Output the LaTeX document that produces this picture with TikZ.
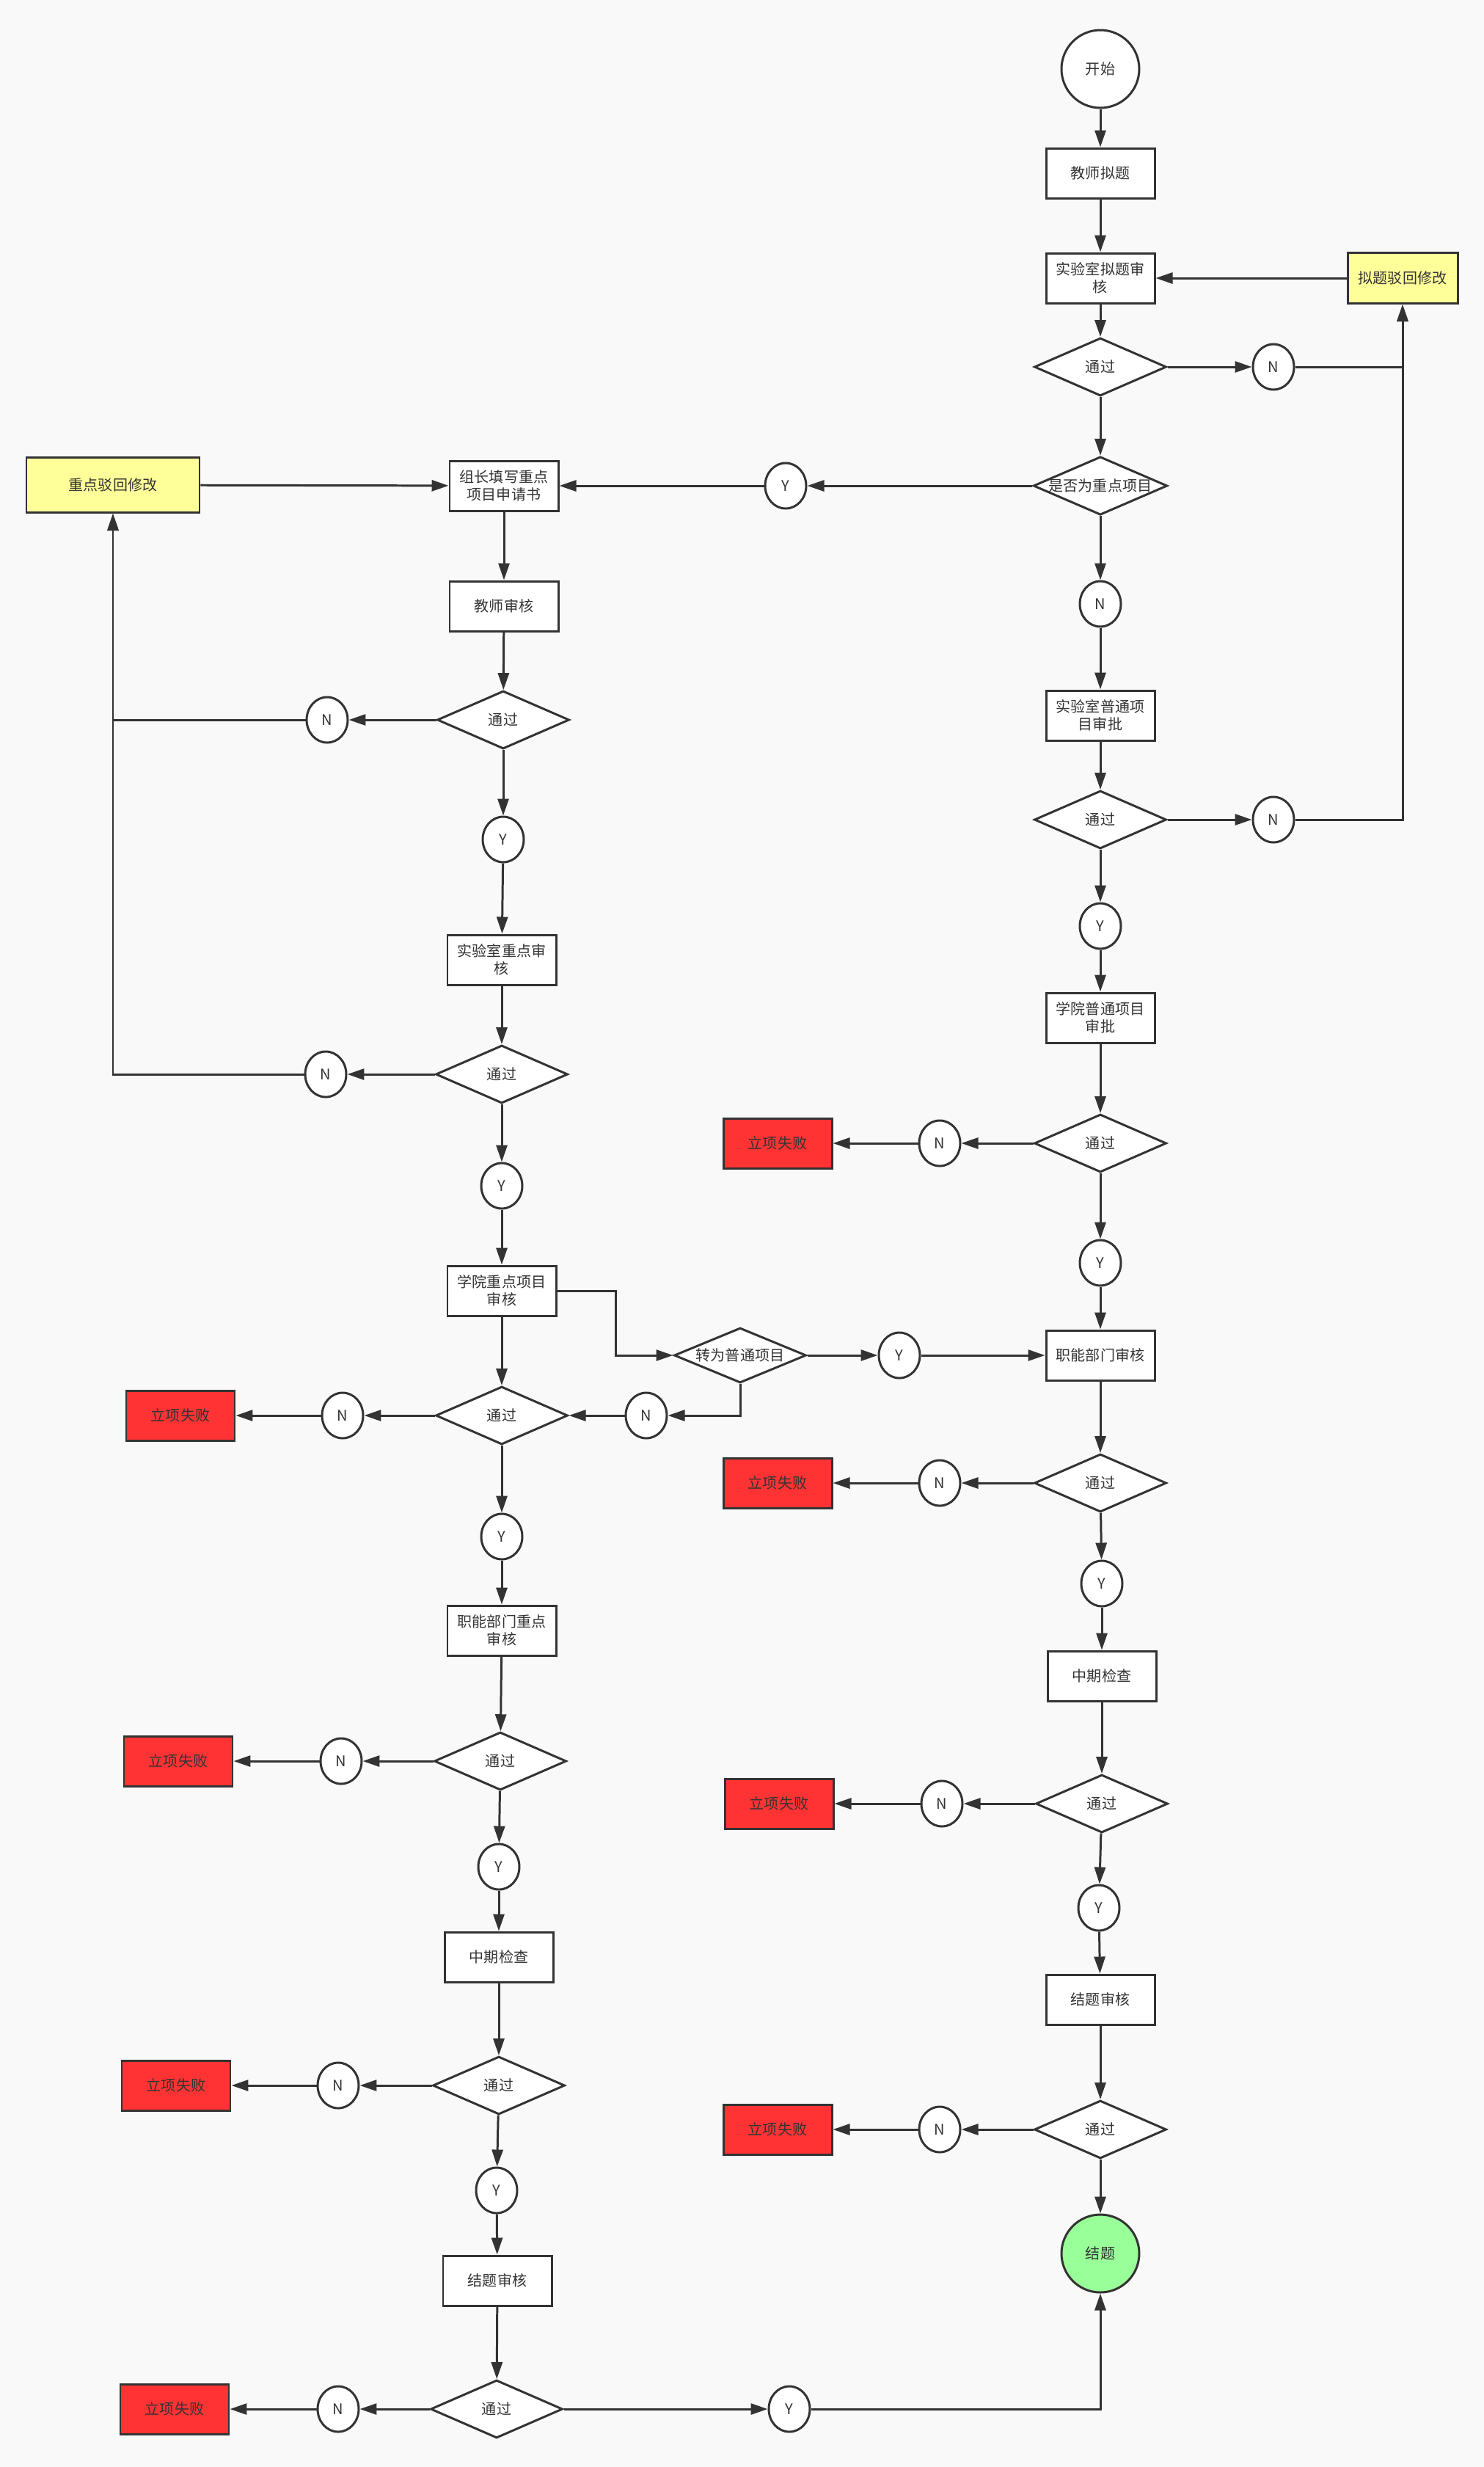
\documentclass[tikz,border=0pt]{standalone}
\usepackage{fontspec}
\newfontfamily\cjk{Noto Sans CJK SC}
\usetikzlibrary{arrows.meta,shapes.geometric}
\definecolor{flowInk}{RGB}{51,51,51}
\definecolor{flowBg}{RGB}{249,249,249}
\definecolor{failRed}{RGB}{255,51,51}
\definecolor{fixYellow}{RGB}{255,255,153}
\definecolor{doneGreen}{RGB}{153,255,153}

\begin{document}
\begin{tikzpicture}[
      font=\cjk\fontsize{5.7}{6.8}\selectfont, color=flowInk, line width=0.85pt,
      >={Triangle[length=2.3mm,width=1.5mm]},
      bx/.style={rectangle,draw,fill=white,minimum width=1.48cm,minimum height=0.68cm,
                 inner sep=0pt,align=center},
      fl/.style={bx,fill=failRed},
      fx/.style={bx,fill=fixYellow,minimum width=1.5cm,minimum height=0.69cm},
      dc/.style={diamond,draw,fill=white,aspect=2.3,minimum width=1.8cm,
                 minimum height=0.79cm,inner sep=0pt},
      yn/.style={ellipse,draw,fill=white,minimum width=0.56cm,minimum height=0.62cm,
                 inner sep=0pt},
      tm/.style={circle,draw,minimum size=1.06cm,inner sep=0pt},
      ar/.style={->}]

    \fill[flowBg] (0,0) rectangle (20.23,-33.62);
    \useasboundingbox (0,0) rectangle (20.23,-33.62);

    % right column: ordinary projects
    \node[tm,fill=white] (start) at (15,-0.94) {开始};
    \node[bx] (tdraft) at (15,-2.36) {教师拟题};
    \node[bx] (labq) at (15,-3.79) {实验室拟题审\\核};
    \node[dc] (d1) at (15,-5.00) {通过};
    \node[yn] (n1) at (17.36,-5.00) {N};
    \node[fx] (fix1) at (19.12,-3.79) {拟题驳回修改};
    \node[dc] (dkey) at (15,-6.62) {是否为重点项目};
    \node[yn] (y1) at (10.71,-6.62) {Y};
    \node[yn] (n2) at (15,-8.23) {N};
    \node[bx] (labn) at (15,-9.75) {实验室普通项\\目审批};
    \node[dc] (d2) at (15,-11.17) {通过};
    \node[yn] (n3) at (17.36,-11.17) {N};
    \node[yn] (y2) at (15,-12.62) {Y};
    \node[bx] (coln) at (15,-13.87) {学院普通项目\\审批};
    \node[dc] (d3) at (15,-15.58) {通过};
    \node[yn] (n4) at (12.81,-15.58) {N};
    \node[fl] (f1) at (10.60,-15.58) {立项失败};
    \node[yn] (y3) at (15,-17.21) {Y};
    \node[bx] (func) at (15,-18.47) {职能部门审核};
    \node[dc] (d4) at (15,-20.21) {通过};
    \node[yn] (n5) at (12.81,-20.21) {N};
    \node[fl] (f2) at (10.60,-20.21) {立项失败};
    \node[yn] (y4) at (15.02,-21.58) {Y};
    \node[bx] (mid) at (15.02,-22.84) {中期检查};
    \node[dc] (d5) at (15.02,-24.58) {通过};
    \node[yn] (n6) at (12.84,-24.58) {N};
    \node[fl] (f3) at (10.62,-24.58) {立项失败};
    \node[yn] (y5) at (14.98,-26.00) {Y};
    \node[bx] (fin) at (15,-27.25) {结题审核};
    \node[dc] (d6) at (15,-29.02) {通过};
    \node[yn] (n7) at (12.81,-29.02) {N};
    \node[fl] (f4) at (10.60,-29.02) {立项失败};
    \node[tm,fill=doneGreen] (end) at (15,-30.71) {结题};

    % left column: key projects
    \node[fx,minimum width=2.36cm,minimum height=0.75cm] (fix2) at (1.54,-6.61) {重点驳回修改};
    \node[bx] (apply) at (6.87,-6.62) {组长填写重点\\项目申请书};
    \node[bx] (tchk) at (6.87,-8.26) {教师审核};
    \node[dc] (k1) at (6.86,-9.81) {通过};
    \node[yn] (kn1) at (4.46,-9.81) {N};
    \node[yn] (ky1) at (6.86,-11.44) {Y};
    \node[bx] (labk) at (6.84,-13.08) {实验室重点审\\核};
    \node[dc] (k2) at (6.84,-14.64) {通过};
    \node[yn] (kn2) at (4.44,-14.64) {N};
    \node[yn] (ky2) at (6.84,-16.16) {Y};
    \node[bx] (colk) at (6.84,-17.59) {学院重点项目\\审核};
    \node[dc] (k3) at (6.84,-19.29) {通过};
    \node[yn] (kn3) at (4.67,-19.29) {N};
    \node[fl] (kf1) at (2.46,-19.29) {立项失败};
    \node[dc,minimum height=0.75cm] (turn) at (10.09,-18.47) {转为普通项目};
    \node[yn] (ty) at (12.26,-18.47) {Y};
    \node[yn] (tn) at (8.81,-19.29) {N};
    \coordinate (bend) at (8.39,-18.47);
    \node[yn] (ky3) at (6.84,-20.94) {Y};
    \node[bx] (funck) at (6.84,-22.22) {职能部门重点\\审核};
    \node[dc] (k4) at (6.82,-24.00) {通过};
    \node[yn] (kn4) at (4.65,-24.00) {N};
    \node[fl] (kf2) at (2.43,-24.00) {立项失败};
    \node[yn] (ky4) at (6.80,-25.44) {Y};
    \node[bx] (midk) at (6.80,-26.67) {中期检查};
    \node[dc] (k5) at (6.80,-28.42) {通过};
    \node[yn] (kn5) at (4.61,-28.42) {N};
    \node[fl] (kf3) at (2.40,-28.42) {立项失败};
    \node[yn] (ky5) at (6.77,-29.85) {Y};
    \node[bx] (fink) at (6.78,-31.08) {结题审核};
    \node[dc] (k6) at (6.77,-32.83) {通过};
    \node[yn] (kn6) at (4.61,-32.83) {N};
    \node[fl] (kf4) at (2.38,-32.83) {立项失败};
    \node[yn] (ky6) at (10.76,-32.83) {Y};

    % straight links
    \foreach \a/\b in {start/tdraft, tdraft/labq, labq/d1, d1/n1, fix1/labq, d1/dkey,
        dkey/y1, y1/apply, dkey/n2, n2/labn, labn/d2, d2/n3, d2/y2, y2/coln,
        coln/d3, d3/n4, n4/f1, d3/y3, y3/func, func/d4, d4/n5, n5/f2, d4/y4,
        y4/mid, mid/d5, d5/n6, n6/f3, d5/y5, y5/fin, fin/d6, d6/n7, n7/f4, d6/end,
        fix2/apply, apply/tchk, tchk/k1, k1/kn1, k1/ky1, ky1/labk, labk/k2,
        k2/kn2, k2/ky2, ky2/colk, colk/k3, k3/kn3, kn3/kf1, turn/ty, ty/func,
        tn/k3, k3/ky3, ky3/funck, funck/k4, k4/kn4, kn4/kf2, k4/ky4, ky4/midk,
        midk/k5, k5/kn5, kn5/kf3, k5/ky5, ky5/fink, fink/k6, k6/kn6, kn6/kf4,
        k6/ky6}
      \draw[ar] (\a) -- (\b);

    % elbows
    \draw[ar] (n1) -| (fix1);
    \draw[ar] (n3) -| (fix1);
    \draw[ar] (kn1) -| (fix2);
    \draw[ar] (kn2) -| (fix2);
    \draw[ar] (colk.east) -| (bend) -- (turn);
    \draw[ar] (turn.south) |- (tn);
    \draw[ar] (ky6) -| (end);
  \end{tikzpicture}
\end{document}
